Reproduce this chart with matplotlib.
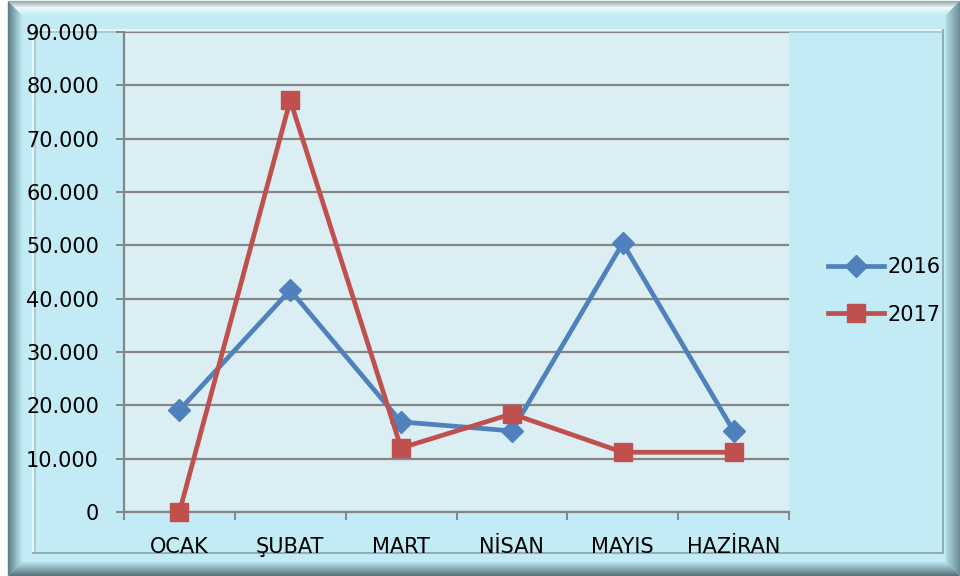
import numpy as np
import matplotlib.pyplot as plt
from matplotlib.ticker import FuncFormatter, FixedLocator
from matplotlib.lines import Line2D

# data
months = ['OCAK', 'ŞUBAT', 'MART', 'NİSAN', 'MAYIS', 'HAZİRAN']
y2016 = [19100, 41600, 16900, 15200, 50400, 15200]
y2017 = [0, 77200, 12000, 18400, 11200, 11200]
yticks = [0, 10000, 20000, 30000, 40000, 50000, 60000, 70000, 80000, 90000]

plt.rcParams['font.family'] = ['DejaVu Sans']

W, H = 960, 576
fig = plt.figure(figsize=(W / 100, H / 100), dpi=100)
fig.patch.set_facecolor('white')


def px(x, y):
    # pixel coords (origin top-left) -> figure fraction
    return x / W, 1 - y / H


def mix(c1, c2, t):
    c1 = np.array(plt.matplotlib.colors.to_rgb(c1))
    c2 = np.array(plt.matplotlib.colors.to_rgb(c2))
    return tuple(c1 + (c2 - c1) * t)


# frame background
x0, y0, x1, y1 = 8, 1, 959, 575
fx, fy = px(x0, y1)
fig.add_artist(plt.Rectangle((fx, fy), (x1 - x0) / W, (y1 - y0) / H,
                             transform=fig.transFigure, facecolor='#c2ebf5',
                             edgecolor='none', zorder=0))

# bevel, drawn as nested outlines
n = 14
for i in range(n):
    t = i / (n - 1)
    a, b, c, d = x0 + i, y0 + i, x1 - i, y1 - i
    top = mix('#9aa9ad', '#eefafd', t * 2) if t < 0.5 else mix('#eefafd', '#c8eef6', (t - 0.5) * 2)
    sides = [
        ((a, b), (a, d), mix('#5e7d86', '#b6e3ec', t)),   # left
        ((a, b), (c, b), top),                            # top
        ((c, b), (c, d), mix('#6e8d95', '#acd8e1', t)),   # right
        ((a, d), (c, d), mix('#56727a', '#b4e1ea', t)),   # bottom
    ]
    for p, q, col in sides:
        P, Q = px(*p), px(*q)
        fig.add_artist(Line2D([P[0], Q[0]], [P[1], Q[1]], transform=fig.transFigure,
                              color=col, lw=1.0, solid_capstyle='butt', zorder=1))

# inner panel outline
for (p, q, col) in [((33, 30), (943, 30), '#e8f8fb'), ((33, 30), (33, 553), '#e8f8fb'),
                    ((943, 30), (943, 553), '#8aa8b0'), ((33, 553), (943, 553), '#8aa8b0'),
                    ((35, 32), (941, 32), '#a9c9d1'), ((35, 32), (35, 551), '#a9c9d1')]:
    P, Q = px(*p), px(*q)
    fig.add_artist(Line2D([P[0], Q[0]], [P[1], Q[1]], transform=fig.transFigure,
                          color=col, lw=1.3, zorder=1))

# plot area
ax = fig.add_axes([124 / W, 1 - 512 / H, (789 - 124) / W, (512 - 32) / H])
ax.set_facecolor('#dbeef4')
ax.set_zorder(2)

xs = np.arange(len(months))
ax.plot(xs, y2016, color='#4f81bd', lw=3.4, marker='D', markersize=11,
        label='2016', clip_on=False, zorder=4)
ax.plot(xs, y2017, color='#c0504d', lw=3.4, marker='s', markersize=13,
        label='2017', clip_on=False, zorder=5)

ax.set_xlim(-0.5, len(months) - 0.5)
ax.set_ylim(0, 90000)
ax.set_yticks(yticks)
ax.yaxis.set_major_formatter(FuncFormatter(
    lambda v, p: '0' if v == 0 else f'{int(v):,}'.replace(',', '.')))
ax.grid(axis='y', color='#868686', lw=1.6)
ax.set_axisbelow(True)

ax.xaxis.set_major_locator(FixedLocator(np.arange(-0.5, len(months), 1.0)))
ax.xaxis.set_major_formatter(FuncFormatter(lambda v, p: ''))
ax.xaxis.set_minor_locator(FixedLocator(xs))
ax.set_xticklabels(months, minor=True)
ax.tick_params(axis='x', which='minor', length=0, pad=18, labelsize=15)
ax.tick_params(axis='x', which='major', length=6, width=1.4, color='#868686', direction='out')
ax.tick_params(axis='y', length=6, width=1.4, color='#868686', pad=12, labelsize=15)

for s in ['top', 'right']:
    ax.spines[s].set_visible(False)
for s in ['left', 'bottom']:
    ax.spines[s].set_color('#868686')
    ax.spines[s].set_linewidth(1.6)

fig.legend(loc='center left', bbox_to_anchor=(828 / W, 1 - 291 / H), frameon=False,
           fontsize=15, handlelength=2.7, handletextpad=0.15, labelspacing=1.3,
           borderaxespad=0, borderpad=0)

fig.savefig('out.png', dpi=100, facecolor=fig.get_facecolor())
